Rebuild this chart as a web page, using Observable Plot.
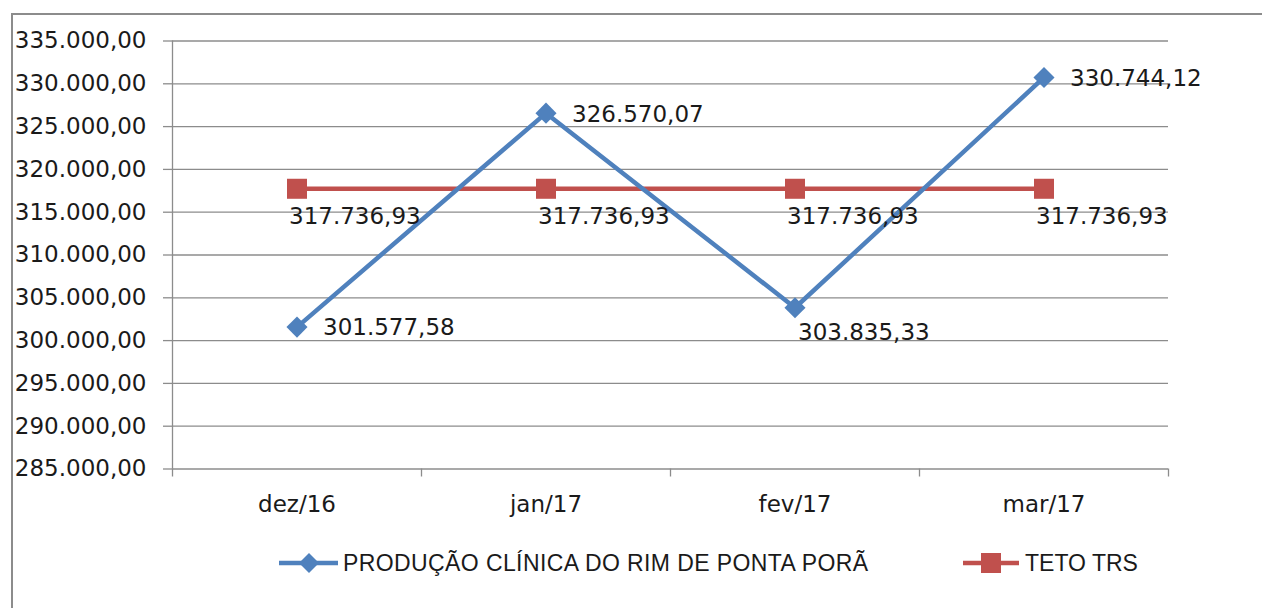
<!DOCTYPE html>
<html>
<head>
<meta charset="utf-8">
<script src="https://cdn.jsdelivr.net/npm/d3@7"></script>
<script src="https://cdn.jsdelivr.net/npm/@observablehq/plot@0.6"></script>
<style>
  html, body { margin: 0; padding: 0; background: #fff; width: 1262px; height: 608px; overflow: hidden; }
  #frame { position: absolute; left: 11px; top: 13px; width: 1300px; height: 700px; border-left: 2px solid #8c8c8c; border-top: 2px solid #8c8c8c; box-sizing: border-box; }
  #chart { position: absolute; left: 0; top: 0; }
  .leg { position: absolute; font-family: "Liberation Sans", Arial, sans-serif; font-size: 23px; color: #1a1a1a; white-space: nowrap; line-height: 1; }
  .legsym { position: absolute; }
</style>
</head>
<body>
<div id="frame"></div>
<div id="chart"></div>
<svg class="legsym" style="left:276px;top:550px" width="66" height="26">
  <line x1="3" y1="13" x2="62" y2="13" stroke="#4F81BD" stroke-width="4.5"/>
  <path d="M33,3 L43,13 L33,23 L23,13 Z" fill="#4F81BD"/>
</svg>
<div class="leg" id="leg1" style="left:343px;top:552px;letter-spacing:0.4px">PRODUÇÃO CLÍNICA DO RIM DE PONTA PORÃ</div>
<svg class="legsym" style="left:960px;top:550px" width="66" height="26">
  <line x1="3" y1="13" x2="59" y2="13" stroke="#C0504D" stroke-width="4.5"/>
  <rect x="21" y="3" width="20" height="20" fill="#C0504D"/>
</svg>
<div class="leg" id="leg2" style="left:1025px;top:552px">TETO TRS</div>
<script>
const categories = ["dez/16", "jan/17", "fev/17", "mar/17"];
const producao = [301577.58, 326570.07, 303835.33, 330744.12];
const teto = [317736.93, 317736.93, 317736.93, 317736.93];
const producaoLabelPos = ["right", "right", "below", "right"];
const yTicks = [285000, 290000, 295000, 300000, 305000, 310000, 315000, 320000, 325000, 330000, 335000];
const seriesNames = ["PRODUÇÃO CLÍNICA DO RIM DE PONTA PORÃ", "TETO TRS"];

const br = d3.formatLocale({decimal: ",", thousands: ".", grouping: [3], currency: ["R$", ""]});
const fmt = br.format(",.2f");

const prodData = categories.map((c, i) => ({i, cat: c, v: producao[i], pos: producaoLabelPos[i]}));
const tetoData = categories.map((c, i) => ({i, cat: c, v: teto[i]}));
const boundaries = d3.range(-0.5, categories.length, 1);

const blue = "#4F81BD", red = "#C0504D", grid = "#8c8c8c";
const numFont = "DejaVu Sans, Verdana, sans-serif";

const chart = Plot.plot({
  width: 1262,
  height: 520,
  marginLeft: 172,
  marginRight: 94,
  marginTop: 40.5,
  marginBottom: 51.5,
  style: {fontFamily: numFont, fontSize: "23px", color: "#1a1a1a", background: "transparent", overflow: "visible"},
  x: {type: "linear", domain: [-0.5, categories.length - 0.5]},
  y: {domain: [285000, 335000]},
  marks: [
    Plot.ruleY(yTicks, {stroke: grid, strokeWidth: 1.3}),
    Plot.axisY({ticks: yTicks, tickFormat: fmt, tickSize: 9, tickPadding: 17, stroke: grid, strokeWidth: 1.3, label: null, fontSize: 23}),
    Plot.ruleX([-0.5], {stroke: grid, strokeWidth: 1.3}),
    Plot.axisX({ticks: boundaries, tickFormat: () => "", tickSize: 8, stroke: grid, strokeWidth: 1.3, label: null}),
    Plot.axisX({ticks: d3.range(categories.length), tickFormat: i => categories[i], tickSize: 0, tickPadding: 27, label: null, fontSize: 23}),
    Plot.line(tetoData, {x: "i", y: "v", stroke: red, strokeWidth: 4.5}),
    Plot.dot(tetoData, {x: "i", y: "v", symbol: "square", r: 11.3, fill: red}),
    Plot.line(prodData, {x: "i", y: "v", stroke: blue, strokeWidth: 4.5}),
    Plot.dot(prodData, {x: "i", y: "v", symbol: "diamond2", r: 9.5, fill: blue}),
    Plot.text(tetoData, {x: "i", y: "v", text: d => fmt(d.v), textAnchor: "start", dx: -8, dy: 28, fill: "#1a1a1a", fontSize: 23}),
    Plot.text(prodData.filter(d => d.pos === "right"), {x: "i", y: "v", text: d => fmt(d.v), textAnchor: "start", dx: 26, dy: 1, fill: "#1a1a1a", fontSize: 23}),
    Plot.text(prodData.filter(d => d.pos === "below"), {x: "i", y: "v", text: d => fmt(d.v), textAnchor: "start", dx: 3, dy: 25, fill: "#1a1a1a", fontSize: 23})
  ]
});
document.getElementById("chart").appendChild(chart);
</script>
</body>
</html>
